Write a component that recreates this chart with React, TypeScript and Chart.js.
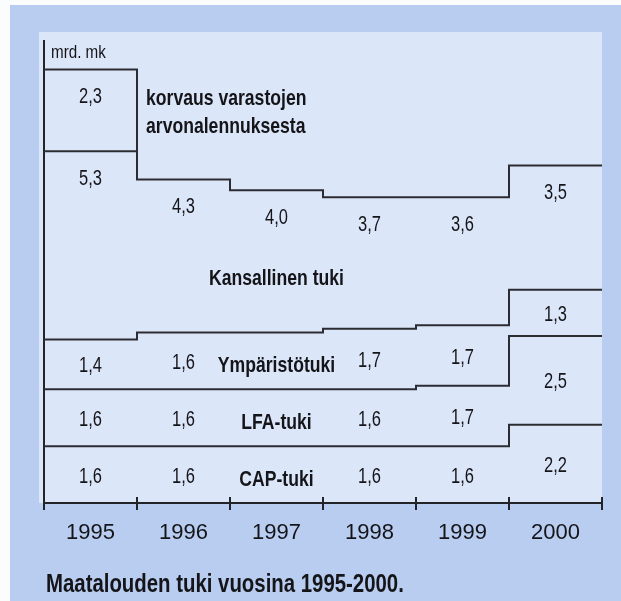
import { useEffect, useRef } from 'react';
import { Chart, registerables } from 'chart.js';

Chart.register(...registerables);

// ---- data (billion FIM, "mrd. mk") ----
const years = [1995, 1996, 1997, 1998, 1999, 2000];
const capTuki = [1.6, 1.6, 1.6, 1.6, 1.6, 2.2];
const lfaTuki = [1.6, 1.6, 1.6, 1.6, 1.7, 2.5];
const ymparistotuki = [1.4, 1.6, 1.6, 1.7, 1.7, 1.3];
const kansallinenTuki = [5.3, 4.3, 4.0, 3.7, 3.6, 3.5];
const korvausVarastot: (number | null)[] = [2.3, null, null, null, null, null];

const seriesNames = [
  ['CAP-tuki'],
  ['LFA-tuki'],
  ['Ympäristötuki'],
  ['Kansallinen tuki'],
  ['korvaus varastojen', 'arvonalennuksesta'],
];
const unitLabel = 'mrd. mk';
const chartTitle = 'Maatalouden tuki vuosina 1995-2000.';
const yMax = 13;

// ---- styles ----
const SANS = "'Liberation Sans', Arial, Helvetica, sans-serif";
const NARROW_X = 0.8; // horizontal squeeze to imitate a condensed face
const TEXT = '#151519';
const LINE = '#2c2d32';
const AXIS = '#232428';
const OUTER_BG = '#b8cdf0';
const INNER_BG = '#dce6f9';

function drawText(
  ctx: CanvasRenderingContext2D,
  s: string,
  x: number,
  y: number,
  align: CanvasTextAlign,
  font: string,
  sx: number
) {
  ctx.save();
  ctx.font = font;
  ctx.translate(x, y);
  ctx.scale(sx, 1);
  ctx.textAlign = align;
  ctx.textBaseline = 'middle';
  ctx.fillStyle = TEXT;
  ctx.fillText(s, 0, 0);
  ctx.restore();
}

export default function App() {
  const ref = useRef<HTMLCanvasElement>(null);

  useEffect(() => {
    const canvas = ref.current;
    if (!canvas) return;
    const stack: (number | null)[][] = [capTuki, lfaTuki, ymparistotuki, kansallinenTuki, korvausVarastot];
    const n = years.length;
    const cum: number[][] = [];
    const base: number[][] = [];
    stack.forEach((vals, s) => {
      base.push(years.map((_, i) => (s === 0 ? 0 : cum[s - 1][i])));
      cum.push(years.map((_, i) => base[s][i] + (vals[i] ?? 0)));
    });

    const datasets = stack.map((vals, s) => {
      const pts: { x: number; y: number | null }[] = [];
      for (let i = 0; i < n; i++) {
        const x = years[i] - 0.5;
        if (vals[i] != null) pts.push({ x, y: cum[s][i] });
        else if (i > 0 && vals[i - 1] != null) pts.push({ x, y: base[s][i] });
        else pts.push({ x, y: null });
      }
      if (vals[n - 1] != null) pts.push({ x: years[n - 1] + 0.5, y: cum[s][n - 1] });
      return {
        label: seriesNames[s].join(' '),
        data: pts,
        stepped: true as const,
        borderColor: LINE,
        borderWidth: 2,
        pointRadius: 0,
        fill: false,
        spanGaps: false,
      };
    });

    const fmt = (v: number) => v.toFixed(1).replace('.', ',');
    const nameCol = 2; // 1997 column holds the series names of the lower bands

    const decorPlugin = {
      id: 'decor',
      beforeDraw(chart: any) {
        const { ctx, width, height, chartArea: a } = chart;
        ctx.save();
        ctx.fillStyle = '#fbfcfe';
        ctx.fillRect(0, 0, width, height);
        ctx.fillStyle = OUTER_BG;
        ctx.fillRect(10, 5, width - 10, height - 5);
        ctx.fillStyle = INNER_BG;
        ctx.fillRect(a.left - 5, a.top - 9, a.right - a.left + 5, a.bottom - a.top + 9);
        ctx.restore();
      },
      afterDraw(chart: any) {
        const { ctx, chartArea: a, scales } = chart;
        const xs = scales.x;
        const ys = scales.y;
        ctx.save();
        // tick marks crossing the x axis at the year boundaries
        ctx.strokeStyle = AXIS;
        ctx.lineWidth = 2;
        ctx.beginPath();
        for (let i = 0; i < n; i++) {
          const px = Math.round(xs.getPixelForValue(years[i] + 0.5));
          ctx.moveTo(px, a.bottom - 6);
          ctx.lineTo(px, a.bottom + 7);
        }
        ctx.moveTo(a.left, a.bottom);
        ctx.lineTo(a.left, a.bottom + 7);
        ctx.stroke();
        ctx.restore();

        // unit label
        drawText(ctx, unitLabel, a.left + 7, a.top + 12, 'left', `19px ${SANS}`, NARROW_X);

        // value labels
        stack.forEach((vals, s) => {
          vals.forEach((v, i) => {
            if (v == null) return;
            if (s <= 2 && i === nameCol) return;
            const level = s >= 3 ? cum[s][i] - 0.72 : base[s][i] + v / 2;
            drawText(ctx, fmt(v), xs.getPixelForValue(years[i]), ys.getPixelForValue(level) + 2, 'center', `22px ${SANS}`, 0.75);
          });
        });

        // series names
        const bold = `bold 22px ${SANS}`;
        for (let s = 0; s <= 2; s++) {
          const v = stack[s][nameCol] as number;
          drawText(ctx, seriesNames[s][0], xs.getPixelForValue(years[nameCol]), ys.getPixelForValue(base[s][nameCol] + v / 2) + 5, 'center', bold, NARROW_X);
        }
        const kv = stack[3][nameCol] as number;
        drawText(ctx, seriesNames[3][0], xs.getPixelForValue(years[nameCol]), ys.getPixelForValue(base[3][nameCol] + kv * 0.4) + 3, 'center', bold, NARROW_X);
        // korvaus name, next to its 1995 block
        const kmid = ys.getPixelForValue(base[4][0] + (stack[4][0] as number) / 2) + 3;
        const kx = xs.getPixelForValue(years[0] + 0.5) + 9;
        drawText(ctx, seriesNames[4][0], kx, kmid - 14, 'left', bold, NARROW_X);
        drawText(ctx, seriesNames[4][1], kx, kmid + 14, 'left', bold, NARROW_X);

        // caption under the chart
        drawText(ctx, chartTitle, a.left + 2, a.bottom + 82, 'left', `bold 25px ${SANS}`, 0.815);
      },
    };

    const chart = new Chart(canvas, {
      type: 'line',
      data: { datasets } as any,
      options: {
        animation: false,
        responsive: false,
        devicePixelRatio: 1,
        events: [],
        layout: { padding: { left: 44, right: 19, top: 41, bottom: 58 } },
        plugins: {
          legend: { display: false },
          tooltip: { enabled: false },
          title: { display: false },
        },
        scales: {
          x: {
            type: 'linear',
            min: years[0] - 0.5,
            max: years[n - 1] + 0.5,
            grid: { display: false, drawTicks: false },
            border: { display: true, color: AXIS, width: 2 },
            afterBuildTicks: (scale: any) => {
              scale.ticks = years.map((y) => ({ value: y }));
            },
            afterFit: (scale: any) => {
              scale.height = 40;
            },
            ticks: {
              autoSkip: false,
              maxRotation: 0,
              padding: 17,
              color: TEXT,
              font: { family: SANS, size: 22 },
              callback: (v: any) => String(v),
            },
          },
          y: {
            min: 0,
            max: yMax,
            grid: { display: false, drawTicks: false },
            border: { display: true, color: AXIS, width: 2 },
            ticks: { display: false },
            afterFit: (scale: any) => {
              scale.width = 0;
            },
          },
        },
      } as any,
      plugins: [decorPlugin],
    });
    return () => chart.destroy();
  }, []);

  return (
    <div style={{ position: 'fixed', left: 0, top: 0, width: 621, height: 601 }}>
      <canvas ref={ref} width={621} height={601} style={{ display: 'block' }} />
    </div>
  );
}
